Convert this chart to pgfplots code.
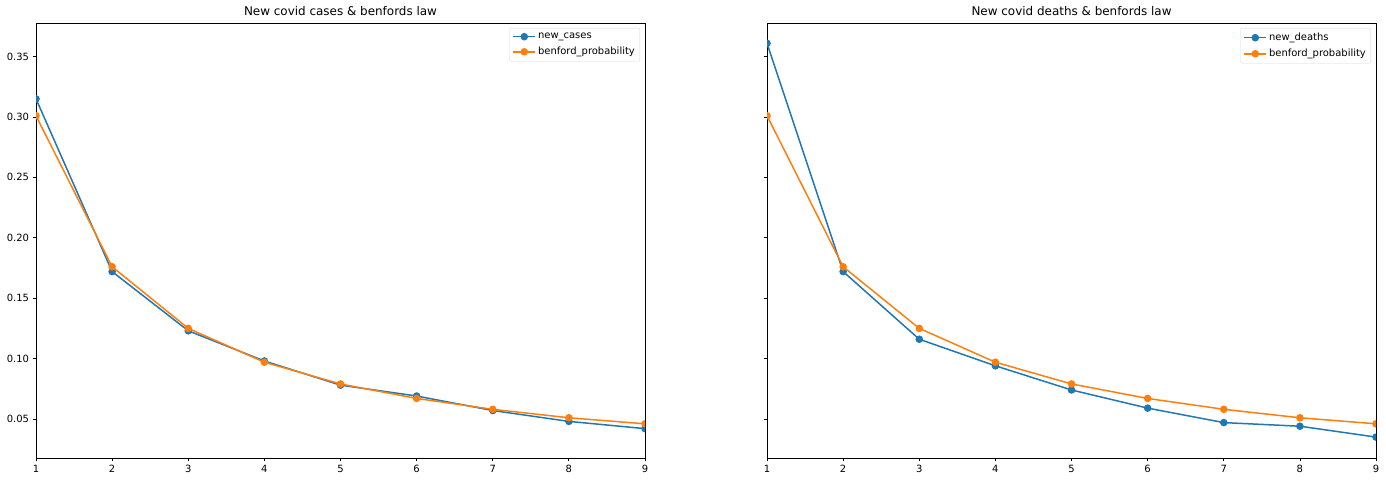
\documentclass[border=0pt]{standalone}
\usepackage{fontspec}
\setmainfont{DejaVu Sans}
\usepackage{pgfplots}
\pgfplotsset{compat=1.18}

\definecolor{tabblue}{HTML}{1F77B4}
\definecolor{taborange}{HTML}{FF7F0E}

% first digit distribution
\pgfplotstableread{
d  cases  deaths  benford
1  0.315  0.361   0.301
2  0.172  0.172   0.176
3  0.123  0.116   0.125
4  0.098  0.094   0.097
5  0.078  0.074   0.079
6  0.069  0.059   0.067
7  0.057  0.047   0.058
8  0.048  0.044   0.051
9  0.042  0.035   0.046
}\digits

\pgfplotsset{
  benf/.style={
    scale only axis, width=609bp, height=435bp,
    xmin=1, xmax=9, ymin=0.0177, ymax=0.3778,
    xtick={1,...,9},
    ytick={0.05,0.10,...,0.35},
    tick align=outside, major tick length=3.5bp,
    tick style={black, line width=0.8bp},
    axis line style={line width=0.8bp},
    xtick pos=bottom, ytick pos=left,
    ticklabel style={font=\fontsize{10}{12}\selectfont},
    /pgf/number format/assume math mode=true,
    yticklabel style={/pgf/number format/fixed, /pgf/number format/fixed zerofill, /pgf/number format/precision=2},
    title style={font=\fontsize{12}{14}\selectfont, at={(0.5,1)}, anchor=south, yshift=-2bp},
    legend style={at={(1,1)}, anchor=north east, xshift=-5bp, yshift=-5bp,
      draw=black!15, rounded corners=2bp, font=\fontsize{10}{12}\selectfont,
      inner xsep=3bp, inner ysep=3bp, row sep=3bp},
    legend cell align=left,
    legend image code/.code={
      \draw[line width=1.5bp, mark repeat=2, mark phase=2] plot coordinates {(0cm,0cm) (0.39cm,0cm) (0.78cm,0cm)};
    },
    clip marker paths=true,
    every axis plot/.append style={line width=1.5bp, mark=*, mark size=3bp},
  }
}

\begin{document}
\begin{tikzpicture}[x=1bp,y=1bp]
\path (0,0) rectangle (1386,482);
\begin{axis}[benf, at={(36bp,24bp)}, anchor=south west,
  title={New covid cases \& benfords law}]
\addplot[tabblue, mark options={fill=tabblue}] table[x=d, y=cases] {\digits};
\addplot[taborange, mark options={fill=taborange}] table[x=d, y=benford] {\digits};
\legend{new\_cases, benford\_probability}
\end{axis}
\begin{axis}[benf, at={(767bp,24bp)}, anchor=south west,
  yticklabels={},
  title={New covid deaths \& benfords law}]
\addplot[tabblue, mark options={fill=tabblue}] table[x=d, y=deaths] {\digits};
\addplot[taborange, mark options={fill=taborange}] table[x=d, y=benford] {\digits};
\legend{new\_deaths, benford\_probability}
\end{axis}
\end{tikzpicture}
\end{document}
